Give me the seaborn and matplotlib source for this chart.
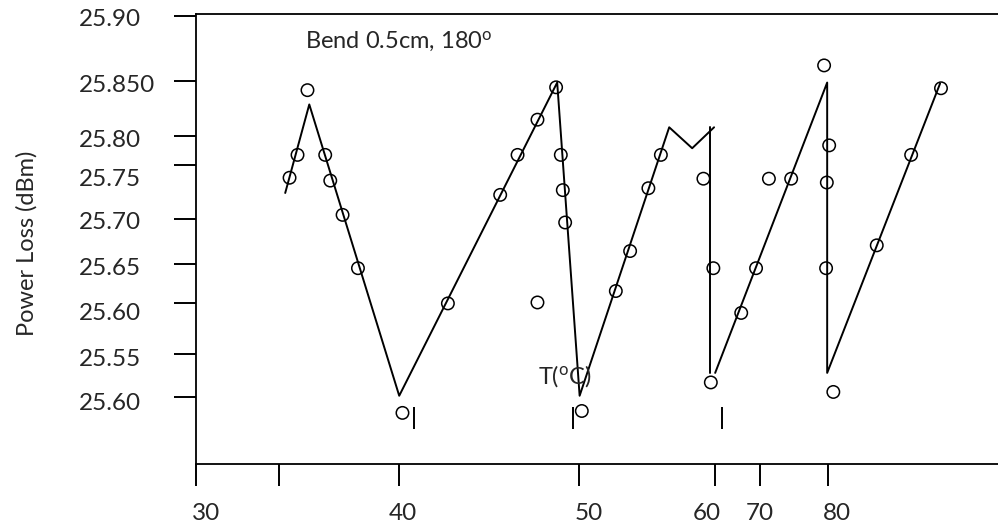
import matplotlib
matplotlib.use("Agg")
import matplotlib.pyplot as plt
import seaborn as sns
import pandas as pd

# measured points (temperature axis, power loss axis)
temp = [33.94, 34.38, 34.93, 35.91, 36.19, 36.87, 37.72, 40.18, 42.69, 45.58,
        46.54, 47.64, 48.67, 48.93, 49.04, 49.17, 47.64, 50.09, 51.97, 52.76,
        53.77, 54.46, 56.81, 57.22, 57.36, 58.90, 59.72, 60.43, 61.66, 63.48,
        63.59, 63.63, 63.76, 63.99, 66.39, 68.29, 69.94]
loss = [25.730, 25.754, 25.822, 25.754, 25.727, 25.691, 25.635, 25.483, 25.598, 25.712,
        25.754, 25.791, 25.825, 25.754, 25.717, 25.683, 25.599, 25.485, 25.611, 25.653,
        25.719, 25.754, 25.729, 25.515, 25.635, 25.588, 25.635, 25.729, 25.729, 25.848,
        25.635, 25.725, 25.764, 25.505, 25.659, 25.754, 25.824]

# trend line, drawn in three pieces
fit_temp = [33.70, 35.03, 40.00, 48.73, 49.97, 54.92, 56.19, 57.40,
            57.18, 57.18,
            57.46, 63.65, 63.65, 69.89]
fit_loss = [25.714, 25.807, 25.501, 25.830, 25.501, 25.783, 25.761, 25.783,
            25.783, 25.525,
            25.525, 25.830, 25.525, 25.829]
fit_piece = [0, 0, 0, 0, 0, 0, 0, 0, 1, 1, 2, 2, 2, 2]

# axis ticks and labels
x_tick_pos = [28.77, 33.33, 40.00, 49.96, 57.46, 59.94, 63.67]
x_label_pos = [29.34, 40.22, 50.50, 57.00, 59.93, 64.18]
x_labels = ["30", "40", "50", "60", "70", "80"]

y_tick_pos = [25.900, 25.8317, 25.7737, 25.7429, 25.6865, 25.6393, 25.598, 25.5445, 25.500]
y_label_pos = [25.8986, 25.8293, 25.7716, 25.7306, 25.6855, 25.6372, 25.5899, 25.5416, 25.4947]
y_labels = ["25.90", "25.850", "25.80", "25.75", "25.70", "25.65", "25.60", "25.55", "25.60"]

# loose tick marks inside the frame
stray_x = [40.83, 49.58, 57.86]
stray_y0, stray_y1 = 25.466, 25.4895

sns.set_theme(style="white")
plt.rcParams["font.family"] = ["Lato", "DejaVu Sans"]
plt.rcParams["mathtext.fontset"] = "custom"
plt.rcParams["mathtext.rm"] = "Lato"
plt.rcParams["mathtext.it"] = "Lato:italic"

fig = plt.figure(figsize=(9.98, 5.26), dpi=100)
ax = fig.add_axes([196 / 998, 61.7 / 526, 802 / 998, 450.3 / 526])

pts = pd.DataFrame({"temp": temp, "loss": loss})
fit = pd.DataFrame({"temp": fit_temp, "loss": fit_loss, "piece": fit_piece})

sns.lineplot(data=fit, x="temp", y="loss", units="piece", estimator=None, sort=False,
             color="black", linewidth=1.4, ax=ax)
sns.scatterplot(data=pts, x="temp", y="loss", marker="o", s=80, facecolor="none",
                edgecolor="black", linewidth=1.1, ax=ax, zorder=3)

ax.vlines(stray_x, stray_y0, stray_y1, color="black", linewidth=1.4)

ax.set_xlim(28.77, 73.09)
ax.set_ylim(25.429, 25.902)

ax.set_xticks(x_tick_pos, labels=[""] * len(x_tick_pos))
ax.set_xticks(x_label_pos, labels=x_labels, minor=True)
ax.set_yticks(y_tick_pos, labels=[""] * len(y_tick_pos))
ax.set_yticks(y_label_pos, labels=y_labels, minor=True)
for lab in ax.get_yticklabels(minor=True):
    lab.set_horizontalalignment("left")

ax.tick_params(which="major", direction="out", length=16, width=1.4, color="black",
               bottom=True, left=True)
ax.tick_params(axis="x", which="minor", length=0, pad=28, labelsize=17.5, bottom=True)
ax.tick_params(axis="y", which="minor", length=0, pad=84, labelsize=17.5, left=True)

for side in ["top", "left", "bottom"]:
    ax.spines[side].set_color("black")
    ax.spines[side].set_linewidth(1.3)
ax.spines["right"].set_visible(False)

ax.set_xlabel("")
ax.set_ylabel("Power Loss (dBm)", fontsize=17)
ax.yaxis.set_label_coords(-0.198, 0.49)

ax.text(0.136, 0.9246, r"Bend 0.5cm, 180$^{\mathrm{o}}$", transform=ax.transAxes,
        fontsize=17, va="baseline")
ax.text(0.4264, 0.1796, r"T($^{\mathrm{o}}$C)", transform=ax.transAxes,
        fontsize=17, va="baseline")

fig.savefig("out.png", dpi=100)
